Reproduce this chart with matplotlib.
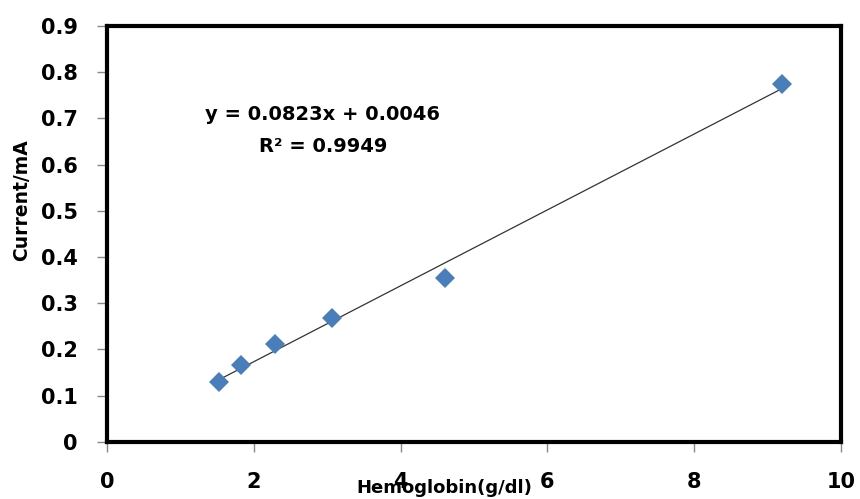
import numpy as np
import matplotlib
matplotlib.use("Agg")
import matplotlib.pyplot as plt

# data
hemoglobin = [1.53, 1.82, 2.29, 3.07, 4.60, 9.20]
current = [0.129, 0.166, 0.211, 0.268, 0.354, 0.775]
x_ticks = [0, 2, 4, 6, 8, 10]
y_ticks = [0, 0.1, 0.2, 0.3, 0.4, 0.5, 0.6, 0.7, 0.8, 0.9]
y_tick_labels = ["0", "0.1", "0.2", "0.3", "0.4", "0.5", "0.6", "0.7", "0.8", "0.9"]
eq_text = "y = 0.0823x + 0.0046"
r2_text = "R² = 0.9949"

plt.rcParams["font.family"] = ["DejaVu Sans"]

fig = plt.figure(figsize=(8.6, 4.99), dpi=100)
ax = fig.add_axes([0.1244, 0.1148, 0.8536, 0.8331])

# trend line (linear fit) across data range
coef = np.polyfit(hemoglobin, current, 1)
xs = np.array([min(hemoglobin), max(hemoglobin)])
ax.plot(xs, np.polyval(coef, xs), color="#333333", linewidth=0.9, zorder=2)

ax.plot(hemoglobin, current, linestyle="none", marker="D", markersize=10,
        color="#4a7ebb", markeredgewidth=0, zorder=3)

ax.set_xlim(0, 10)
ax.set_ylim(0, 0.9)
ax.set_xticks(x_ticks)
ax.set_xticklabels([str(t) for t in x_ticks])
ax.set_yticks(y_ticks)
ax.set_yticklabels(y_tick_labels)

for s in ax.spines.values():
    s.set_linewidth(3)
    s.set_color("black")

ax.tick_params(axis="both", direction="out", length=7, width=1, color="#888888",
               labelsize=15, pad=14)
ax.tick_params(axis="x", pad=15)
for lab in ax.get_xticklabels() + ax.get_yticklabels():
    lab.set_fontweight("bold")

ax.text(2.94, 0.708, eq_text, ha="center", va="center", fontsize=14, fontweight="bold")
ax.text(2.94, 0.639, r2_text, ha="center", va="center", fontsize=14, fontweight="bold")

# axis titles
fig.text(0.025, 1 - 200 / 499, "Current/mA", rotation=90, ha="center", va="center",
         fontsize=13.5, fontweight="bold")
fig.text(444 / 860, 1 - 488 / 499, "Hemoglobin(g/dl)", ha="center", va="center",
         fontsize=13, fontweight="bold")

fig.savefig("out.png", dpi=100)
